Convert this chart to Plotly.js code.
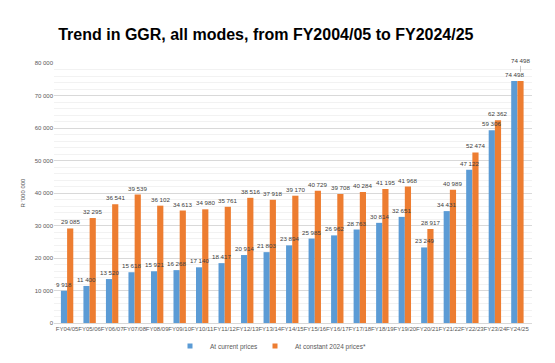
<!DOCTYPE html>
<html>
<head>
<meta charset="utf-8">
<script src="https://cdn.plot.ly/plotly-3.0.1.min.js"></script>
<style>html,body{margin:0;padding:0;background:#fff;}#chart{width:555px;height:363px;}</style>
</head>
<body>
<div id="chart"></div>
<script>
const categories = ["FY04/05","FY05/06","FY06/07","FY07/08","FY08/09","FY09/10","FY10/11","FY11/12","FY12/13","FY13/14","FY14/15","FY15/16","FY16/17","FY17/18","FY18/19","FY19/20","FY20/21","FY21/22","FY22/23","FY23/24","FY24/25"];
const currentPrices = [9918,11400,13520,15618,15921,16268,17140,18417,20914,21803,23894,25985,26962,28763,30814,32651,23249,34431,47122,59306,74498];
const constantPrices = [29085,32295,36541,39539,36102,34613,34980,35761,38516,37918,39170,40729,39708,40284,41195,41968,28917,40989,52474,62362,74498];
const seriesNames = ["At current prices","At constant 2024 prices*"];
const yTicks = [0,10000,20000,30000,40000,50000,60000,70000,80000];

function fmt(v){ return String(v).replace(/\B(?=(\d{3})+(?!\d))/g, " "); }

const FONT = "Liberation Sans, Arial, sans-serif";
const labelFont = {family:FONT, size:6.2, color:"#404040"};
const lastIdx = categories.length - 1;
const colors = ["#5B9BD5","#ED7D31"];

const traces = [
  {type:"bar", name:seriesNames[0], x:categories, y:currentPrices,
   marker:{color:colors[0]}, hoverinfo:"none", showlegend:false},
  {type:"bar", name:seriesNames[1], x:categories, y:constantPrices,
   marker:{color:colors[1]}, hoverinfo:"none", showlegend:false},
  {type:"scatter", mode:"markers", name:seriesNames[0], x:[null], y:[null], legend:"legend",
   marker:{symbol:"square", size:5, color:colors[0]}, showlegend:true, hoverinfo:"none"},
  {type:"scatter", mode:"markers", name:seriesNames[1], x:[null], y:[null], legend:"legend2",
   marker:{symbol:"square", size:5, color:colors[1]}, showlegend:true, hoverinfo:"none"}
];

const annotations = [];
categories.forEach((c,i)=>{
  annotations.push({x:c, y:currentPrices[i], xref:"x", yref:"y", xshift:-3.1, yshift:1,
    yanchor:"bottom", text:fmt(currentPrices[i]), showarrow:false, font:labelFont});
  if(i === lastIdx){
    annotations.push({x:c, y:constantPrices[i], xref:"x", yref:"y", xshift:3.1,
      text:fmt(constantPrices[i]), showarrow:true, arrowhead:0, arrowwidth:0.6, arrowcolor:"#a6a6a6",
      ax:0, ay:-20, standoff:9, font:labelFont});
  } else {
    annotations.push({x:c, y:constantPrices[i], xref:"x", yref:"y", xshift:3.1, yshift:1,
      yanchor:"bottom", text:fmt(constantPrices[i]), showarrow:false, font:labelFont});
  }
});

const legendBase = {orientation:"h", xref:"container", xanchor:"left", yref:"container", yanchor:"middle",
  y:1-346/363, bgcolor:"rgba(0,0,0,0)", font:{family:FONT, size:6.5, color:"#595959"}, itemwidth:30};

const layout = {
  width:555, height:363,
  margin:{l:54, r:23, t:63, b:40},
  paper_bgcolor:"#fff", plot_bgcolor:"#fff",
  barmode:"group", bargap:0.45, bargroupgap:0,
  title:{text:"Trend in GGR, all modes, from FY2004/05 to FY2024/25",
    font:{family:FONT, size:16, color:"#000", weight:"bold"},
    x:0.479, xref:"container", xanchor:"center", y:0.905, yref:"container", yanchor:"middle"},
  xaxis:{type:"category", tickangle:0, showline:true, linecolor:"#d9d9d9", linewidth:1,
    ticks:"", tickfont:{family:FONT, size:6, color:"#595959"}},
  yaxis:{range:[0,80000], tickvals:yTicks, ticktext:yTicks.map(fmt), showgrid:true, gridcolor:"#d9d9d9", gridwidth:1,
    minor:{dtick:2000, showgrid:true, gridcolor:"#f2f2f2", gridwidth:1},
    zeroline:false, showline:false, ticks:"", ticklen:0,
    tickfont:{family:FONT, size:6, color:"#595959"},
    title:{text:"R '000 000", standoff:8, font:{family:FONT, size:6, color:"#595959"}}},
  showlegend:true,
  legend:Object.assign({}, legendBase, {x:170/555}),
  legend2:Object.assign({}, legendBase, {x:255/555}),
  annotations: annotations
};

Plotly.newPlot("chart", traces, layout, {displayModeBar:false, staticPlot:true});
</script>
</body>
</html>
